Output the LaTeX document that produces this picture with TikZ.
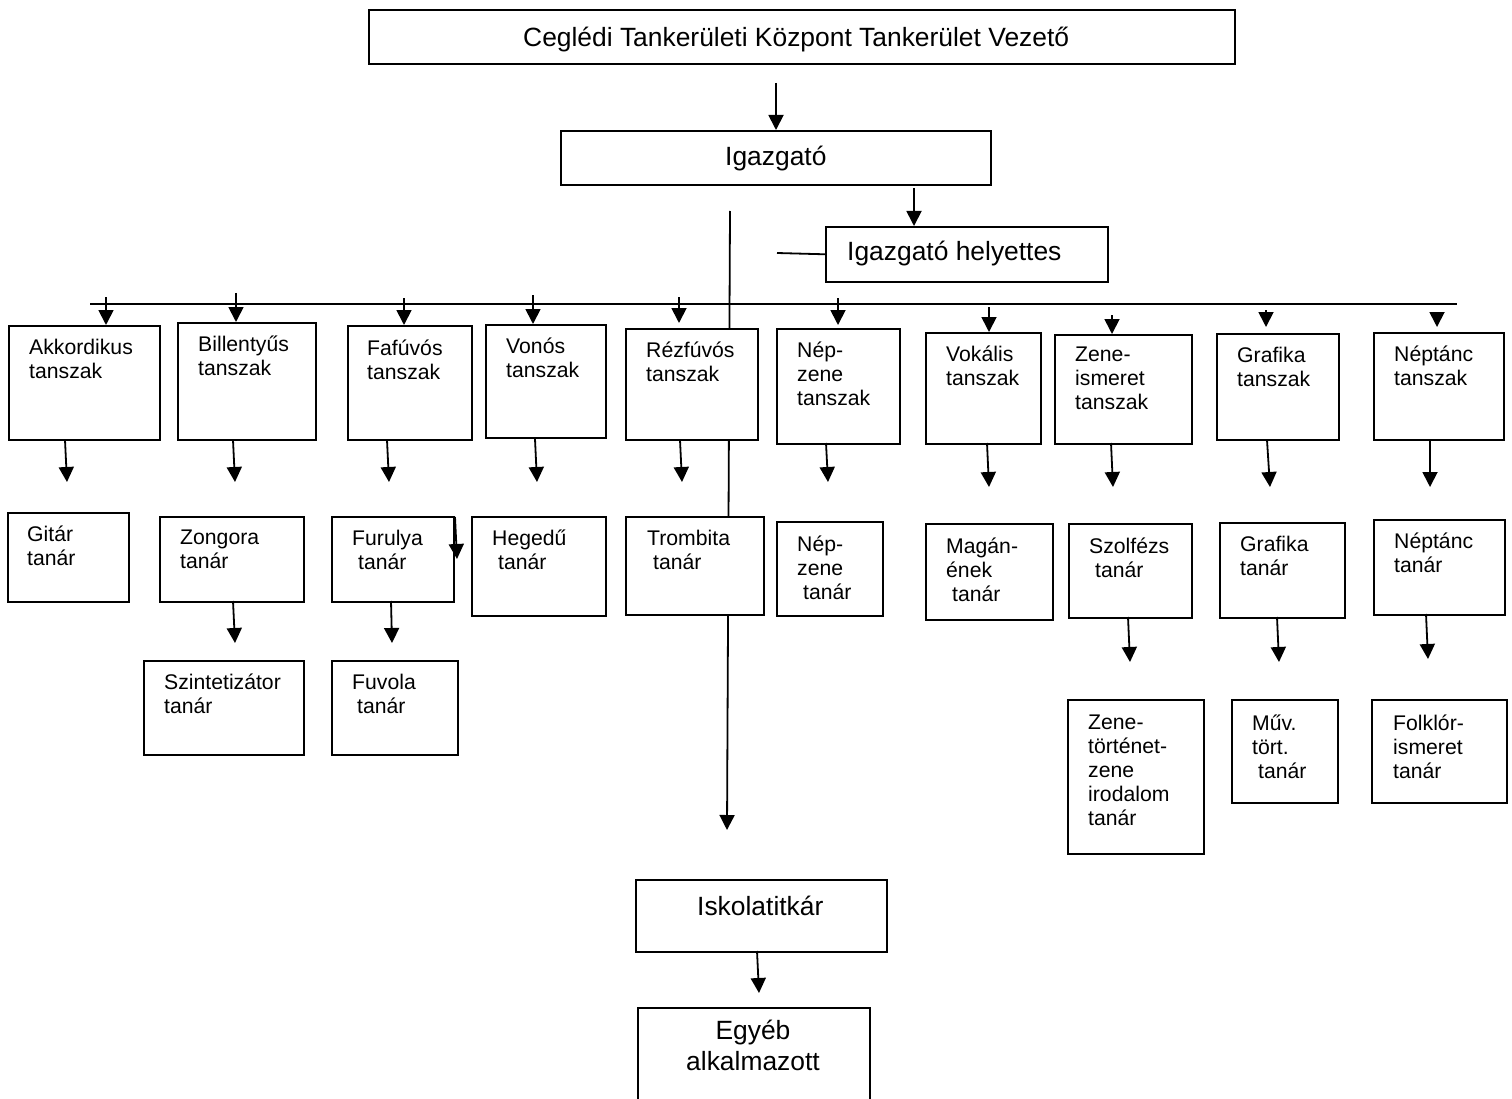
\documentclass[tikz,border=0pt]{standalone}
\usepackage{fontspec}
\setmainfont{Liberation Sans}
\usetikzlibrary{arrows.meta}

\begin{document}
\begin{tikzpicture}[x=1pt,y=-1pt]
   \tikzset{box/.style={draw,fill=white,line width=1.6pt,inner sep=0pt,anchor=north west}}
   \tikzset{txt/.style={inner sep=0pt,anchor=north west,align=left,font=\fontsize{21.2}{24}\selectfont}}
   \tikzset{bigtxt/.style={inner sep=0pt,anchor=north west,align=left,font=\fontsize{26.4}{31}\selectfont}}
   \tikzset{arr/.style={line width=1.8pt,-{Triangle[width=15pt,length=15pt]}}}
   \tikzset{wire/.style={line width=1.8pt}}
   \tikzset{execute at begin node=\strut}
   \useasboundingbox (0,0) rectangle (1512,1099);

   % lines under the boxes
   \coordinate (mainA) at (730,211);
   \coordinate (mainB) at (727,830);
   \draw[arr] (mainA) -- (mainB);
   \coordinate (busL) at (90,304);
   \coordinate (busR) at (1457,304);
   \draw[wire] (busL) -- (busR);

   % head
   \node[box,minimum width=866pt,minimum height=54pt] (top) at (368,9) {};
   \node[bigtxt] (topT) at (523,25) {Ceglédi Tankerületi Központ Tankerület Vezető};
   \node[box,minimum width=430pt,minimum height=54pt] (igaz) at (560,130) {};
   \node[bigtxt] (igazT) at (725,144) {Igazgató};
   \node[box,minimum width=282pt,minimum height=55pt] (hely) at (825,226) {};
   \node[bigtxt] (helyT) at (847,239) {Igazgató helyettes};

   % tanszakok
   \node[box,minimum width=151pt,minimum height=114pt] (akk) at (8,325) {};
   \node[txt] (akkT) at (29,339) {Akkordikus\\tanszak};
   \node[box,minimum width=138pt,minimum height=117pt] (bill) at (177,322) {};
   \node[txt] (billT) at (198,336) {Billentyűs\\tanszak};
   \node[box,minimum width=124pt,minimum height=114pt] (faf) at (347,325) {};
   \node[txt] (fafT) at (367,340) {Fafúvós\\tanszak};
   \node[box,minimum width=120pt,minimum height=113pt] (von) at (485,324) {};
   \node[txt] (vonT) at (506,338) {Vonós\\tanszak};
   \node[box,minimum width=132pt,minimum height=111pt] (rez) at (625,328) {};
   \node[txt] (rezT) at (646,342) {Rézfúvós\\tanszak};
   \node[box,minimum width=123pt,minimum height=115pt] (nepz) at (776,328) {};
   \node[txt] (nepzT) at (797,342) {Nép-\\zene\\tanszak};
   \node[box,minimum width=115pt,minimum height=111pt] (vok) at (925,332) {};
   \node[txt] (vokT) at (946,346) {Vokális\\tanszak};
   \node[box,minimum width=137pt,minimum height=109pt] (zene) at (1054,334) {};
   \node[txt] (zeneT) at (1075,347) {Zene-\\ismeret\\tanszak};
   \node[box,minimum width=122pt,minimum height=106pt] (graf) at (1216,333) {};
   \node[txt] (grafT) at (1237,347) {Grafika\\tanszak};
   \node[box,minimum width=130pt,minimum height=107pt] (nept) at (1373,332) {};
   \node[txt] (neptT) at (1394,346) {Néptánc\\tanszak};

   % tanarok
   \node[box,minimum width=121pt,minimum height=89pt] (gitar) at (7,512) {};
   \node[txt] (gitarT) at (27,526) {Gitár\\tanár};
   \node[box,minimum width=144pt,minimum height=85pt] (zong) at (159,516) {};
   \node[txt] (zongT) at (180,530) {Zongora\\tanár};
   \node[box,minimum width=122pt,minimum height=85pt] (furu) at (331,516) {};
   \node[txt] (furuT) at (352,530) {Furulya\\\hspace{6pt}tanár};
   \node[box,minimum width=134pt,minimum height=99pt] (hege) at (471,516) {};
   \node[txt] (hegeT) at (492,530) {Hegedű\\\hspace{6pt}tanár};
   \node[box,minimum width=138pt,minimum height=98pt] (trom) at (625,516) {};
   \node[txt] (tromT) at (647,530) {Trombita\\\hspace{6pt}tanár};
   \node[box,minimum width=106pt,minimum height=94pt] (nepzt) at (776,521) {};
   \node[txt] (nepztT) at (797,536) {Nép-\\zene\\\hspace{6pt}tanár};
   \node[box,minimum width=127pt,minimum height=96pt] (magan) at (925,523) {};
   \node[txt] (maganT) at (946,538) {Magán-\\ének\\\hspace{6pt}tanár};
   \node[box,minimum width=123pt,minimum height=94pt] (szolf) at (1068,523) {};
   \node[txt] (szolfT) at (1089,538) {Szolfézs\\\hspace{6pt}tanár};
   \node[box,minimum width=125pt,minimum height=95pt] (graft) at (1219,522) {};
   \node[txt] (graftT) at (1240,536) {Grafika\\tanár};
   \node[box,minimum width=131pt,minimum height=95pt] (neptt) at (1373,519) {};
   \node[txt] (nepttT) at (1394,533) {Néptánc\\tanár};

   % harmadik sor
   \node[box,minimum width=160pt,minimum height=94pt] (szint) at (143,660) {};
   \node[txt] (szintT) at (164,674) {Szintetizátor\\tanár};
   \node[box,minimum width=126pt,minimum height=94pt] (fuvo) at (331,660) {};
   \node[txt] (fuvoT) at (352,674) {Fuvola\\\hspace{5pt}tanár};
   \node[box,minimum width=136pt,minimum height=154pt] (zenet) at (1067,699) {};
   \node[txt] (zenetT) at (1088,715) {Zene-\\történet-\\zene\\irodalom\\tanár};
   \node[box,minimum width=106pt,minimum height=103pt] (muv) at (1231,699) {};
   \node[txt] (muvT) at (1252,715) {Műv.\\tört.\\\hspace{6pt}tanár};
   \node[box,minimum width=135pt,minimum height=103pt] (folk) at (1371,699) {};
   \node[txt] (folkT) at (1393,715) {Folklór-\\ismeret\\tanár};

   % iskolatitkar
   \node[box,minimum width=251pt,minimum height=72pt] (isk) at (635,879) {};
   \node[bigtxt] (iskT) at (697,894) {Iskolatitkár};
   \node[box,minimum width=232pt,minimum height=100pt] (egyeb) at (637,1007) {};
   \node[bigtxt,anchor=north,align=center] (egyebT) at (753,1020) {Egyéb\\alkalmazott};

   % head arrows
   \coordinate (topA) at (776,83);
   \draw[arr] (topA) -- (topA |- igaz.north);
   \coordinate (igazA) at (914,188);
   \draw[arr] (igazA) -- (igazA |- hely.north);
   \coordinate (helyL) at (777,253);
   \draw[wire] (helyL) -- (hely.west);

   % bus -> tanszak
   \coordinate (akkIn) at (106,297);
   \coordinate (billIn) at (236,293);
   \coordinate (fafIn) at (404,298);
   \coordinate (vonIn) at (533,295);
   \coordinate (rezIn) at (679,297);  \coordinate (rezTip) at (679,323);
   \coordinate (nepzIn) at (838,298); \coordinate (nepzTip) at (838,325);
   \coordinate (vokIn) at (989,307);
   \coordinate (zeneIn) at (1112,315);
   \coordinate (grafIn) at (1266,310); \coordinate (grafTip) at (1266,327);
   \coordinate (neptIn) at (1437,312); \coordinate (neptTip) at (1437,327);
   \draw[arr] (akkIn) -- (akkIn |- akk.north);
   \draw[arr] (billIn) -- (billIn |- bill.north);
   \draw[arr] (fafIn) -- (fafIn |- faf.north);
   \draw[arr] (vonIn) -- (vonIn |- von.north);
   \draw[arr] (rezIn) -- (rezTip);
   \draw[arr] (nepzIn) -- (nepzTip);
   \draw[arr] (vokIn) -- (vokIn |- vok.north);
   \draw[arr] (zeneIn) -- (zeneIn |- zene.north);
   \draw[arr] (grafIn) -- (grafTip);
   \draw[arr] (neptIn) -- (neptTip);

   % tanszak -> tanar
   \coordinate (akkA) at (65,440);    \coordinate (akkB) at (67,482);
   \coordinate (billA) at (233,440);  \coordinate (billB) at (235,482);
   \coordinate (fafA) at (387,440);   \coordinate (fafB) at (389,482);
   \coordinate (vonA) at (535,439);   \coordinate (vonB) at (537,482);
   \coordinate (rezA) at (680,440);   \coordinate (rezB) at (682,482);
   \coordinate (nepzA) at (826,443);  \coordinate (nepzB) at (828,482);
   \coordinate (vokA) at (987,443);   \coordinate (vokB) at (989,487);
   \coordinate (zeneA) at (1111,443); \coordinate (zeneB) at (1113,487);
   \coordinate (grafA) at (1267,440); \coordinate (grafB) at (1270,487);
   \coordinate (neptA) at (1430,440); \coordinate (neptB) at (1430,487);
   \draw[arr] (akkA) -- (akkB);
   \draw[arr] (billA) -- (billB);
   \draw[arr] (fafA) -- (fafB);
   \draw[arr] (vonA) -- (vonB);
   \draw[arr] (rezA) -- (rezB);
   \draw[arr] (nepzA) -- (nepzB);
   \draw[arr] (vokA) -- (vokB);
   \draw[arr] (zeneA) -- (zeneB);
   \draw[arr] (grafA) -- (grafB);
   \draw[arr] (neptA) -- (neptB);

   % tanar -> harmadik sor
   \coordinate (zongA) at (233,601);   \coordinate (zongB) at (235,643);
   \coordinate (furuA) at (391,601);   \coordinate (furuB) at (392,643);
   \coordinate (szolfA) at (1128,617); \coordinate (szolfB) at (1130,662);
   \coordinate (graftA) at (1277,617); \coordinate (graftB) at (1279,662);
   \coordinate (nepttA) at (1426,614); \coordinate (nepttB) at (1428,659);
   \draw[arr] (zongA) -- (zongB);
   \draw[arr] (furuA) -- (furuB);
   \draw[arr] (szolfA) -- (szolfB);
   \draw[arr] (graftA) -- (graftB);
   \draw[arr] (nepttA) -- (nepttB);
   \coordinate (strayA) at (455,517);  \coordinate (strayB) at (457,559);
   \draw[arr] (strayA) -- (strayB);

   \coordinate (iskA) at (757,951);    \coordinate (iskB) at (759,993);
   \draw[arr] (iskA) -- (iskB);
\end{tikzpicture}
\end{document}
